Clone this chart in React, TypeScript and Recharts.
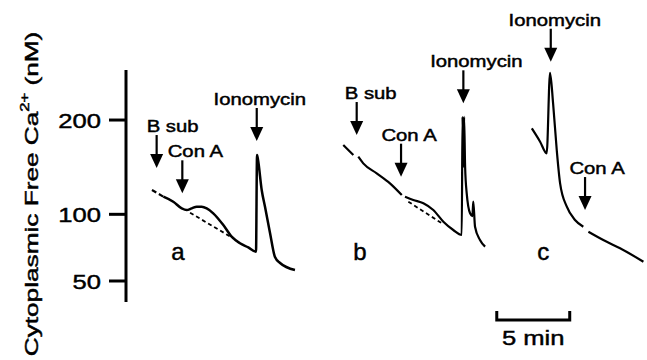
import { Label, Line, LineChart, ReferenceDot, ReferenceLine, XAxis, YAxis } from 'recharts'

const FONT = '"Liberation Sans", Arial, Helvetica, sans-serif'
const INK = '#000'
// printed type is heavier than the screen font, so give it a hairline outline
const TEXT_STYLE = { fontFamily: FONT, fill: INK, stroke: INK, strokeWidth: 0.45 }

// time in min, cytoplasmic Ca2+ in nM
const A_LEAD_MIN = [1.78, 2.56]
const A_LEAD_NM = [122.5, 116.1]
const A_MIN = [2.56, 3.24, 3.82, 4.16, 4.5, 4.85, 5.19, 5.53, 5.98, 6.67, 7.24, 7.81, 8.38, 8.91, 8.98, 9.05, 9.3, 9.53, 9.87, 10.21, 10.56, 11.58]
const A_NM = [116.1, 111.4, 105.3, 103.8, 105.3, 106.8, 106.8, 105.3, 100.9, 90.8, 81.3, 76.2, 73.1, 69.9, 158.9, 153.4, 122.5, 106.5, 84.3, 66.0, 61.8, 57.1]
const A_BASE_MIN = [4.39, 7.35]
const A_BASE_NM = [101.4, 80.0]

// null = pen lifted while adding the drug
const B_MIN = [14.89, 15.58, 15.75, 15.92, 16.26, 17.18, 18.09, 18.9, 19.0, 19.12, 19.69, 20.38, 21.06, 21.75, 22.43, 23.01, 23.06, 23.13, 23.17, 23.24, 23.35, 23.58, 23.74, 23.8, 23.92, 24.26, 24.61]
const B_NM = [170.1, 158.9, null, 157.0, 149.8, 139.3, 129.1, 117.7, null, 116.1, 113.0, 109.9, 103.8, 93.6, 86.7, 82.7, 204.1, 146.2, 204.1, 146.2, 119.3, 100.9, 98.5, 111.4, 89.4, 78.7, 73.6]
const B_BASE_MIN = [19.35, 21.64]
const B_BASE_NM = [111.4, 92.3]

const C_MIN = [27.81, 28.38, 28.83, 29.06, 29.27, 29.52, 29.75, 30.21, 30.77, 31.34, 31.5, 31.69, 32.71, 33.86, 35.46]
const C_NM = [189.8, 174.0, 160.8, 263, 221.3, 164.5, 129.1, 106.8, 95.1, 89.4, null, 85.3, 78.7, 72.4, 62.7]

const ARROW_LABELS = ['B sub', 'Con A', 'Ionomycin', 'B sub', 'Con A', 'Ionomycin', 'Ionomycin', 'Con A']
const ARROW_MIN = [2.1, 3.86, 8.96, 15.81, 18.85, 23.12, 29.11, 31.46]
const ARROW_NM = [144.8, 119.3, 174.8, 181.8, 135.8, 221.3, 279, 103.8]
// caption nudge off its arrow, px
const ARROW_TEXT_DX = [16, 13, 3, 14, 8, 13, 4, 12]

const PANELS = ['a', 'b', 'c']
const PANEL_MIN = [3.56, 16.04, 28.6]
const PANEL_NM = 63.9

const Y_TICKS = [50, 100, 200]
const Y_DOMAIN: [number, number] = [37.8, 267]
const X_DOMAIN: [number, number] = [0, 35.5]
const SCALE_BAR_MIN = [25.41, 30.41]

const toPoints = (ts: number[], vs: (number | null)[]) => ts.map((t, i) => ({ t, v: vs[i] }))

function Arrow({ cx, cy, label, dx }: any) {
  return (
    <g>
      <line x1={cx} y1={cy - 33} x2={cx} y2={cy - 12} stroke={INK} strokeWidth={2.2} />
      <polygon points={`${cx - 6.5},${cy - 14} ${cx + 6.5},${cy - 14} ${cx},${cy}`} fill={INK} />
      <g transform={`translate(${cx + dx},${cy - 36}) scale(1.23,1)`}>
        <text textAnchor="middle" fontSize={16.5} {...TEXT_STYLE}>
          {label}
        </text>
      </g>
    </g>
  )
}

function YTick({ x, y, payload }: any) {
  return (
    <g transform={`translate(${x},${y}) scale(1.22,1)`}>
      <text textAnchor="end" dy="0.36em" fontSize={21} {...TEXT_STYLE}>
        {payload.value}
      </text>
    </g>
  )
}

function YTitle({ viewBox }: any) {
  const cy = viewBox.y + viewBox.height / 2 + 8
  return (
    <g transform={`translate(38,${cy}) rotate(-90) scale(1.38,1)`}>
      <text textAnchor="middle" fontSize={19} {...TEXT_STYLE}>
        Cytoplasmic Free Ca
        <tspan fontSize={12} dy={-9}>2+</tspan>
        <tspan dy={9}> (nM)</tspan>
      </text>
    </g>
  )
}

function ScaleBar({ x1, y1, x2 }: any) {
  const y = y1 + 18
  return (
    <g>
      <path d={`M${x1},${y - 9} V${y} H${x2} V${y - 9}`} fill="none" stroke={INK} strokeWidth={3} />
      <g transform={`translate(${(x1 + x2) / 2},${y + 25}) scale(1.22,1)`}>
        <text textAnchor="middle" fontSize={21} {...TEXT_STYLE}>
          5 min
        </text>
      </g>
    </g>
  )
}

const trace = { dataKey: 'v', stroke: INK, dot: false, type: 'monotoneX' as const, isAnimationActive: false }

export default function App() {
  return (
    <div style={{ position: 'absolute', left: 0, top: 0, width: 647, height: 360, background: '#fff' }}>
      <LineChart width={647} height={360} margin={{ top: 70, right: 3, bottom: 58, left: 0 }}>
        <XAxis dataKey="t" type="number" domain={X_DOMAIN} allowDataOverflow hide />
        <YAxis
          type="number"
          scale="sqrt"
          domain={Y_DOMAIN}
          ticks={Y_TICKS}
          allowDataOverflow
          width={126}
          tickSize={17}
          tickMargin={8}
          axisLine={{ stroke: INK, strokeWidth: 3 }}
          tickLine={{ stroke: INK, strokeWidth: 3 }}
          tick={<YTick />}
        >
          <Label content={<YTitle />} />
        </YAxis>

        <Line {...trace} data={toPoints(A_LEAD_MIN, A_LEAD_NM)} strokeWidth={2.2} strokeDasharray="5 3" />
        <Line {...trace} data={toPoints(A_MIN, A_NM)} strokeWidth={2.5} />
        <Line {...trace} data={toPoints(A_BASE_MIN, A_BASE_NM)} strokeWidth={1.8} strokeDasharray="4 3" />
        <Line {...trace} data={toPoints(B_MIN, B_NM)} strokeWidth={2.2} />
        <Line {...trace} data={toPoints(B_BASE_MIN, B_BASE_NM)} strokeWidth={1.8} strokeDasharray="4 3" />
        <Line {...trace} data={toPoints(C_MIN, C_NM)} strokeWidth={2.2} />

        {ARROW_LABELS.map((label, i) => (
          <ReferenceDot
            key={`arrow-${i}`}
            x={ARROW_MIN[i]}
            y={ARROW_NM[i]}
            ifOverflow="visible"
            shape={(p: any) => <Arrow cx={p.cx} cy={p.cy} label={label} dx={ARROW_TEXT_DX[i]} />}
          />
        ))}

        {PANELS.map((name, i) => (
          <ReferenceDot
            key={name}
            x={PANEL_MIN[i]}
            y={PANEL_NM}
            ifOverflow="visible"
            shape={(p: any) => (
              <text x={p.cx} y={p.cy} textAnchor="middle" fontSize={24} {...TEXT_STYLE}>
                {name}
              </text>
            )}
          />
        ))}

        <ReferenceLine
          segment={[
            { x: SCALE_BAR_MIN[0], y: Y_DOMAIN[0] },
            { x: SCALE_BAR_MIN[1], y: Y_DOMAIN[0] },
          ]}
          ifOverflow="visible"
          shape={(p: any) => <ScaleBar x1={p.x1} y1={p.y1} x2={p.x2} />}
        />
      </LineChart>
    </div>
  )
}
